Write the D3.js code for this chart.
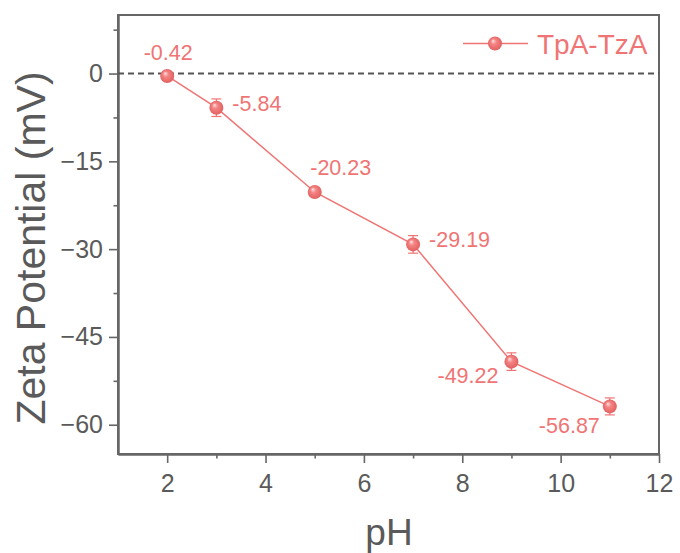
<!DOCTYPE html>
<html><head><meta charset="utf-8">
<script src="https://cdn.jsdelivr.net/npm/d3@7"></script>
<style>body{margin:0;background:#fff;} svg{display:block;font-family:"Liberation Sans",Arial,sans-serif;}</style>
</head><body><svg id="c" width="680" height="553"></svg>
<script>
const pH = [2, 3, 5, 7, 9, 11];
const zeta = [-0.42, -5.84, -20.23, -29.19, -49.22, -56.87];
const err = [0.7, 1.5, 0.7, 1.5, 1.5, 1.45];
const labels = ["-0.42", "-5.84", "-20.23", "-29.19", "-49.22", "-56.87"];
const labelPos = ["top", "right", "topright", "right", "left", "bottomleft"];
const xTicks = [2, 4, 6, 8, 10, 12];
const xMinor = [3, 5, 7, 9, 11];
const yTicks = [0, -15, -30, -45, -60];
const yMinor = [7.5, -7.5, -22.5, -37.5, -52.5];
const seriesName = "TpA-TzA";

const svg = d3.select("#c");
const L = 118, R = 659, T = 15, B = 454;
const x = d3.scaleLinear().domain([1, 12]).range([L, R]);
const y = d3.scaleLinear().domain([-65, 10]).range([B, T]);
const axisCol = "#666", textCol = "#5a5a5a", col = "#f07474";

const defs = svg.append("defs");
const g = defs.append("radialGradient").attr("id","sph").attr("cx","50%").attr("cy","50%").attr("r","55%").attr("fx","35%").attr("fy","30%");
g.append("stop").attr("offset","0%").attr("stop-color","#ffe6e6");
g.append("stop").attr("offset","35%").attr("stop-color","#f58585");
g.append("stop").attr("offset","100%").attr("stop-color","#e05c5c");

// frame
svg.append("rect").attr("x",L).attr("y",T).attr("width",R-L).attr("height",B-T).attr("fill","none").attr("stroke",axisCol).attr("stroke-width",2);

// axes
const xa = svg.append("g").attr("transform",`translate(0,${B})`)
  .call(d3.axisBottom(x).tickValues(xTicks).tickSize(9).tickSizeOuter(0).tickPadding(11).tickFormat(d3.format("d")));
const xm = svg.append("g").attr("transform",`translate(0,${B})`)
  .call(d3.axisBottom(x).tickValues(xMinor).tickSize(4.5).tickSizeOuter(0).tickFormat(""));
const ya = svg.append("g").attr("transform",`translate(${L},0)`)
  .call(d3.axisLeft(y).tickValues(yTicks).tickSize(9).tickSizeOuter(0).tickPadding(6).tickFormat(d => d===0 ? "0" : "\u2212" + Math.abs(d)));
const ym = svg.append("g").attr("transform",`translate(${L},0)`)
  .call(d3.axisLeft(y).tickValues(yMinor).tickSize(4.5).tickSizeOuter(0).tickFormat(""));
[xa,xm,ya,ym].forEach(a=>{
  a.select(".domain").attr("stroke",axisCol).attr("stroke-width",2);
  a.selectAll(".tick line").attr("stroke",axisCol).attr("stroke-width",1.6);
  a.selectAll(".tick text").attr("fill",textCol).attr("font-size",25).attr("font-family","Liberation Sans, Arial, sans-serif");
});

// axis titles
svg.append("text").attr("x",389).attr("y",545).attr("text-anchor","middle").attr("font-size",37).attr("fill",textCol).text("pH");
svg.append("text").attr("transform",`translate(45,248) rotate(-90)`).attr("text-anchor","middle").attr("font-size",41).attr("fill",textCol).text("Zeta Potential (mV)");

// zero line
svg.append("line").attr("x1",L).attr("x2",R).attr("y1",y(0)).attr("y2",y(0)).attr("stroke","#555").attr("stroke-width",2).attr("stroke-dasharray","6,4");

// line
const data = pH.map((p,i)=>({p, v:zeta[i], e:err[i], l:labels[i], pos:labelPos[i]}));
svg.append("path").datum(data).attr("fill","none").attr("stroke",col).attr("stroke-width",1.5)
  .attr("d", d3.line().x(d=>x(d.p)).y(d=>y(d.v)));

// error bars
const eb = svg.append("g").attr("stroke",col).attr("stroke-width",1.2);
data.forEach(d=>{
  eb.append("line").attr("x1",x(d.p)).attr("x2",x(d.p)).attr("y1",y(d.v+d.e)).attr("y2",y(d.v-d.e));
  [d.v+d.e, d.v-d.e].forEach(v=>eb.append("line").attr("x1",x(d.p)-5).attr("x2",x(d.p)+5).attr("y1",y(v)).attr("y2",y(v)));
});

// markers
svg.append("g").selectAll("circle").data(data).join("circle")
  .attr("cx",d=>x(d.p)).attr("cy",d=>y(d.v)).attr("r",7).attr("fill","url(#sph)");

// labels (offsets: dx, baseline dy, anchor)
const off = {top:[1,-16,"middle"], right:[16,3,"start"], topright:[26,-17,"middle"], left:[-13,21,"end"], bottomleft:[-10,27,"end"]};
svg.append("g").selectAll("text").data(data).join("text")
  .attr("x",d=>x(d.p)+off[d.pos][0]).attr("y",d=>y(d.v)+off[d.pos][1])
  .attr("text-anchor",d=>off[d.pos][2]).attr("font-size",21.5).attr("fill",col).text(d=>d.l);

// legend
const lg = svg.append("g");
lg.append("line").attr("x1",463).attr("x2",528).attr("y1",43.5).attr("y2",43.5).attr("stroke",col).attr("stroke-width",1.5);
lg.append("circle").attr("cx",495).attr("cy",43.5).attr("r",7).attr("fill","url(#sph)");
lg.append("text").attr("x",537).attr("y",53.5).attr("font-size",28).attr("fill",col).text(seriesName);
</script></body></html>
